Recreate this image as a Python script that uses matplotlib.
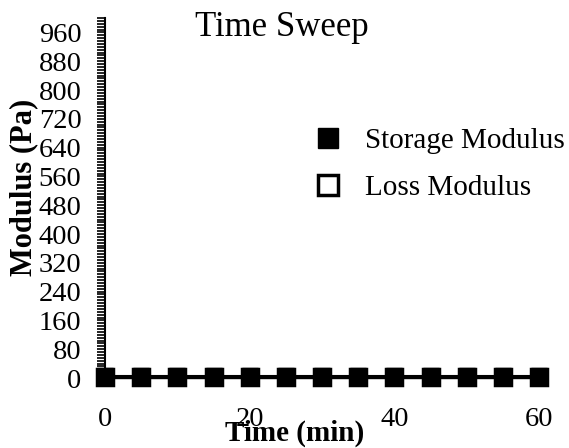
import matplotlib
matplotlib.use('Agg')
import matplotlib.pyplot as plt
from matplotlib.ticker import MultipleLocator

# data
time_min = [0, 5, 10, 15, 20, 25, 30, 35, 40, 45, 50, 55, 60]
storage_modulus = [5, 5, 5, 5, 5, 5, 5, 5, 5, 5, 5, 5, 5]
loss_modulus = [2, 2, 2, 2, 2, 2, 2, 2, 2, 2, 2, 2, 2]
x_ticks = [0, 20, 40, 60]
y_ticks = list(range(0, 961, 80))

plt.rcParams['font.family'] = ['Liberation Serif', 'DejaVu Serif']

fig = plt.figure(figsize=(5.69, 4.48), dpi=100)
ax = fig.add_axes([105 / 569, 70 / 448, 434 / 569, 360 / 448])

# loss modulus sits under the storage modulus markers
ax.plot(time_min, loss_modulus, color='black', lw=1, marker='s', ms=11,
        mfc='white', mec='black', mew=2.5, label='Loss Modulus', clip_on=False, zorder=3)
ax.plot(time_min, storage_modulus, color='black', lw=1.5, marker='s', ms=11,
        mfc='black', mec='black', mew=1, label='Storage Modulus', clip_on=False, zorder=4)

ax.set_xlim(0, 60)
ax.set_ylim(0, 1000)
ax.set_xticks(x_ticks)
ax.set_yticks(y_ticks)
ax.yaxis.set_minor_locator(MultipleLocator(8))

ax.spines['top'].set_visible(False)
ax.spines['right'].set_visible(False)
ax.spines['left'].set_linewidth(1.5)
ax.spines['bottom'].set_linewidth(1)

ax.tick_params(axis='x', length=0, pad=21, labelsize=20.5)
ax.tick_params(axis='y', which='major', direction='out', length=6, width=1.2, pad=11, labelsize=20.5)
ax.tick_params(axis='y', which='minor', direction='out', length=6, width=1.2)

ax.set_xlabel('Time (min)', fontsize=21, fontweight='bold')
ax.xaxis.set_label_coords(0.438, -0.153)
ax.set_ylabel('Modulus (Pa)', fontsize=22, fontweight='bold')
ax.yaxis.set_label_coords(-0.187, 0.53)
ax.xaxis.label.set_va('center')
ax.yaxis.label.set_va('center')

fig.text(282 / 569, 1 - 28 / 448, 'Time Sweep', fontsize=25, ha='center', va='center')

handles, labels = ax.get_legend_handles_labels()
leg = ax.legend(handles[::-1], labels[::-1], loc='upper left',
                bbox_to_anchor=(313 / 569, 1 - 128 / 448), bbox_transform=fig.transFigure,
                frameon=False, fontsize=21, handlelength=1.0, handletextpad=0.78,
                borderpad=0, borderaxespad=0, labelspacing=0.7, markerscale=1.3)
for h in leg.legend_handles:
    h.set_linestyle('none')

fig.savefig('out.png', dpi=100)
